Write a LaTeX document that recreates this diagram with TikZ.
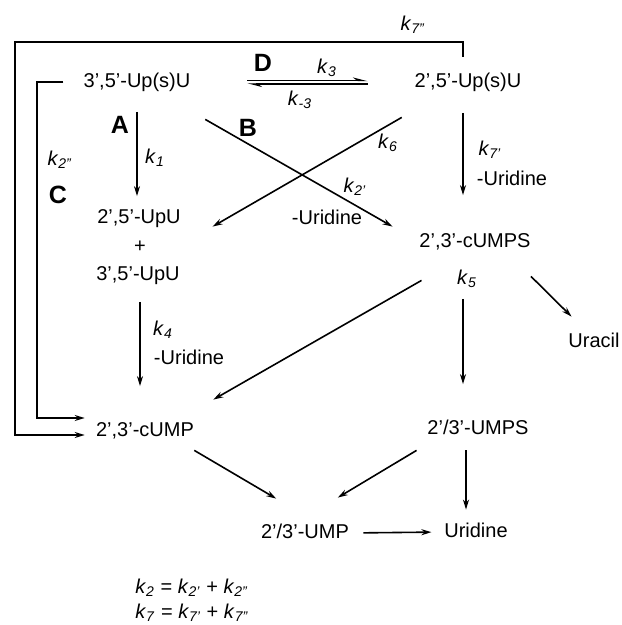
\documentclass[tikz,border=0pt]{standalone}
\usepackage{fontspec}
\setmainfont{Liberation Sans}
\usetikzlibrary{arrows.meta, positioning, calc}
\newcommand{\kk}[1]{\textit{k}\textsubscript{\textit{#1}}}

\begin{document}
\begin{tikzpicture}[
  x=0.5pt, y=-0.5pt,
  every node/.style={font=\fontsize{10}{12}\selectfont},
  cmpd/.style={inner sep=0pt, text height=7.5pt, text depth=2pt},
  lbl/.style={inner sep=0pt},
  letter/.style={inner sep=0pt, font=\fontsize{12.5}{14}\selectfont\bfseries},
  arr/.style={line width=0.8pt, -{Stealth[length=5pt, width=3pt]}},
  fwd/.style={line width=0.7pt, -{Stealth[length=6pt, width=3pt, left]}},
]
  \useasboundingbox (0,0) rectangle (621,625);

  \node[cmpd] (usp35) at (137,82) {3',5'-Up(s)U};
  \node[cmpd] (usp25) at (468,82) {2',5'-Up(s)U};
  \node[cmpd] (upu25) at (139,218) {2',5'-UpU};
  \node[cmpd] (plus) at (140,247) {+};
  \node[cmpd] (upu35) at (138,275) {3',5'-UpU};
  \node[cmpd] (cumps) at (475,242) {2',3'-cUMPS};
  \node[cmpd] (k5) at (467,279) {\kk{5}};
  \node[cmpd] (uracil) at (594,342) {Uracil};
  \node[cmpd] (cump) at (145,431) {2',3'-cUMP};
  \node[cmpd] (umps) at (478,429) {2'/3'-UMPS};
  \node[cmpd] (ump) at (305,533) {2'/3'-UMP};
  \node[cmpd] (uridine) at (476,532) {Uridine};

  \node[letter] (lblD) at (263,63) {D};
  \node[lbl] (lblk3) at (327,68) {\kk{3}};
  \node[lbl] (lblkm3) at (300,100) {\kk{-3}};
  \node[lbl] (lblk7b) at (413,25) {\kk{7''}};
  \node[letter] (lblA) at (120,125) {A};
  \node[lbl] (lblk1) at (155,158) {\kk{1}};
  \node[letter] (lblB) at (248,128) {B};
  \node[lbl] (lblk6) at (388,143) {\kk{6}};
  \node[lbl] (lblk2a) at (355,187) {\kk{2'}};
  \node[lbl] (lblurd1) at (327,217) {-Uridine};
  \node[lbl] (lblk7a) at (490,150) {\kk{7'}};
  \node[lbl] (lblurd2) at (512,178) {-Uridine};
  \node[lbl] (lblk2b) at (60,160) {\kk{2''}};
  \node[letter] (lblC) at (58,195) {C};
  \node[lbl] (lblk4) at (163,330) {\kk{4}};
  \node[lbl] (lblurd3) at (189,357) {-Uridine};

  \node[lbl, anchor=west] (eqk2) at (135,588) {\kk{2} = \kk{2'} + \kk{2''}};
  \node[lbl, anchor=west] (eqk7) at (135,613) {\kk{7} = \kk{7'} + \kk{7''}};

  \coordinate (outer) at (15,42);
  \coordinate (inner) at (37,82);

  \draw[fwd] ([shift={(56.5,-1.5)}]usp35.east) -- ([shift={(-46.5,-1.5)}]usp25.west);
  \draw[fwd] ([shift={(-46.5,2)}]usp25.west) -- ([shift={(56.5,2)}]usp35.east);

  \draw[arr, shorten <=10pt, shorten >=6pt] (usp35.south) -- (usp35.south |- upu25.north);
  \draw[arr, shorten <=8.5pt, shorten >=17.5pt] ([xshift=1pt]upu35.south) -- ([xshift=1pt]upu35.south |- cump.north);
  \draw[arr, shorten <=10.5pt, shorten >=18.5pt] ([xshift=-2.5pt]usp25.south) -- ([xshift=-2.5pt]usp25.south |- cumps.north);
  \draw[arr, shorten <=5pt, shorten >=17.5pt] ([xshift=-2pt]k5.south) -- ([xshift=-2pt]k5.south |- umps.north);
  \draw[arr, shorten <=5.75pt, shorten >=6.25pt] ([xshift=-5pt]uridine.north |- umps.south) -- ([xshift=-5pt]uridine.north);
  \draw[arr, shorten <=7pt, shorten >=6.25pt] (ump.east) -- (uridine.west);

  \draw[arr] ([shift={(14.5,27.5)}]usp35.south east) -- ([shift={(-26.5,-5.5)}]cumps.north west);
  \draw[arr] ([shift={(-12.5,25.5)}]usp25.south west) -- ([shift={(31.5,18.5)}]upu25.north east);
  \draw[arr] ([shift={(2.5,28.5)}]cumps.south west) -- ([shift={(19,-21.5)}]cump.north east);
  \draw[arr] ([shift={(0,24.5)}]cumps.south east) -- ([shift={(3.5,-15.5)}]uracil.north west);
  \draw[arr] ([shift={(0,9.5)}]cump.south east) -- ([shift={(15.5,-24.5)}]ump.north west);
  \draw[arr] ([shift={(-10.5,11.5)}]umps.south west) -- ([shift={(-11.5,-25.5)}]ump.north east);

  \draw[arr] ([shift={(-5,-15.5)}]usp25.north) |- (outer) |- ([shift={(-11,4)}]cump.west);
  \draw[arr] ([xshift=-10pt]usp35.west) -- (inner) |- ([shift={(-11,-13)}]cump.west);
\end{tikzpicture}
\end{document}
